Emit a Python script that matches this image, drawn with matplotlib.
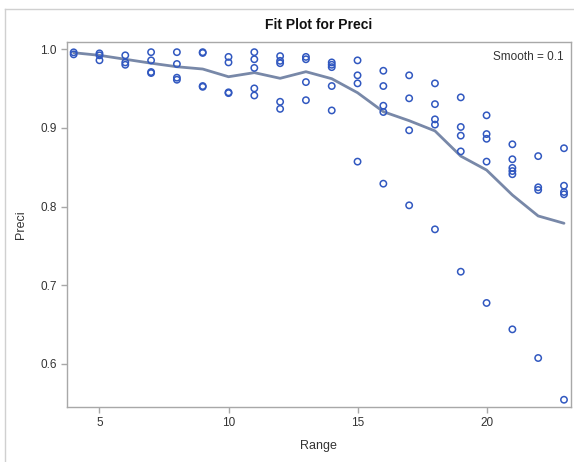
import matplotlib
matplotlib.use('Agg')
import matplotlib.pyplot as plt
from matplotlib.lines import Line2D
import numpy as np

plt.rcParams['font.family'] = ['Liberation Sans', 'DejaVu Sans']

# observed precision per range value
obs = {
    4: [0.9958, 0.9932],
    5: [0.9945, 0.992, 0.9857],
    6: [0.992, 0.983, 0.980],
    7: [0.996, 0.9856, 0.9708, 0.9695],
    8: [0.996, 0.981, 0.9636, 0.961],
    9: [0.996, 0.995, 0.953, 0.952],
    10: [0.990, 0.983, 0.945, 0.944],
    11: [0.996, 0.987, 0.976, 0.950, 0.941],
    12: [0.991, 0.985, 0.982, 0.933, 0.924],
    13: [0.990, 0.987, 0.958, 0.935],
    14: [0.983, 0.980, 0.977, 0.953, 0.922],
    15: [0.9856, 0.9666, 0.9564, 0.857],
    16: [0.9724, 0.953, 0.928, 0.920, 0.829],
    17: [0.9666, 0.9374, 0.8968, 0.8015],
    18: [0.9564, 0.930, 0.9107, 0.904, 0.771],
    19: [0.9386, 0.901, 0.890, 0.870, 0.7172],
    20: [0.9158, 0.892, 0.886, 0.857, 0.6775],
    21: [0.879, 0.860, 0.849, 0.845, 0.841, 0.644],
    22: [0.864, 0.8244, 0.821, 0.6076],
    23: [0.874, 0.8264, 0.8184, 0.8155, 0.5546],
}

# loess fit, smoothing parameter 0.1
fit_x = [4, 5, 6, 7, 8, 9, 10, 11, 12, 13, 14, 15, 16, 17, 18, 19, 20, 21, 22, 23]
fit_y = [0.9953, 0.992, 0.987, 0.982, 0.9775, 0.9746, 0.9648, 0.970, 0.9628, 0.9712,
         0.9623, 0.9445, 0.9204, 0.909, 0.896, 0.864, 0.8463, 0.8146, 0.788, 0.7787]

xs = np.concatenate([[k] * len(v) for k, v in obs.items()])
ys = np.concatenate([v for v in obs.values()])

fig = plt.figure(figsize=(5.74, 4.62), dpi=100)
ax = fig.add_axes([66.7 / 574, 1 - 407.3 / 462, (570.7 - 66.7) / 574, (407.3 - 41.7) / 462])

ax.plot(fit_x, fit_y, color='#7888A8', linewidth=2.0, zorder=2, solid_capstyle='round')
ax.scatter(xs, ys, s=21, facecolors='none', edgecolors='#3158C0', linewidths=1.1, zorder=3)

ax.set_xlim(3.73, 23.26)
ax.set_ylim(0.545, 1.0093)
ax.set_xticks([5, 10, 15, 20])
ax.set_yticks([0.6, 0.7, 0.8, 0.9, 1.0])
ax.set_yticklabels(['0.6', '0.7', '0.8', '0.9', '1.0'])

for s in ax.spines.values():
    s.set_color('#A8A8A8')
    s.set_linewidth(1.0)
ax.tick_params(direction='out', length=4, width=1, color='#A8A8A8', labelsize=8.5,
               labelcolor='#333333', pad=3)

ax.set_xlabel('Range', fontsize=9, color='#333333', labelpad=8)
ax.set_ylabel('Preci', fontsize=9, color='#333333', labelpad=10)
ax.set_title('Fit Plot for Preci', fontsize=10, fontweight='bold', color='#111111', pad=9)
ax.text(0.985, 0.975, 'Smooth = 0.1', transform=ax.transAxes, ha='right', va='top',
        fontsize=8.5, color='#333333')

# light outer frame on top and left
fig.add_artist(Line2D([5 / 574, 1], [1 - 9 / 462, 1 - 9 / 462], color='#D0D0D0', linewidth=1))
fig.add_artist(Line2D([5 / 574, 5 / 574], [0, 1 - 9 / 462], color='#D0D0D0', linewidth=1))

fig.savefig('out.png', dpi=100)
